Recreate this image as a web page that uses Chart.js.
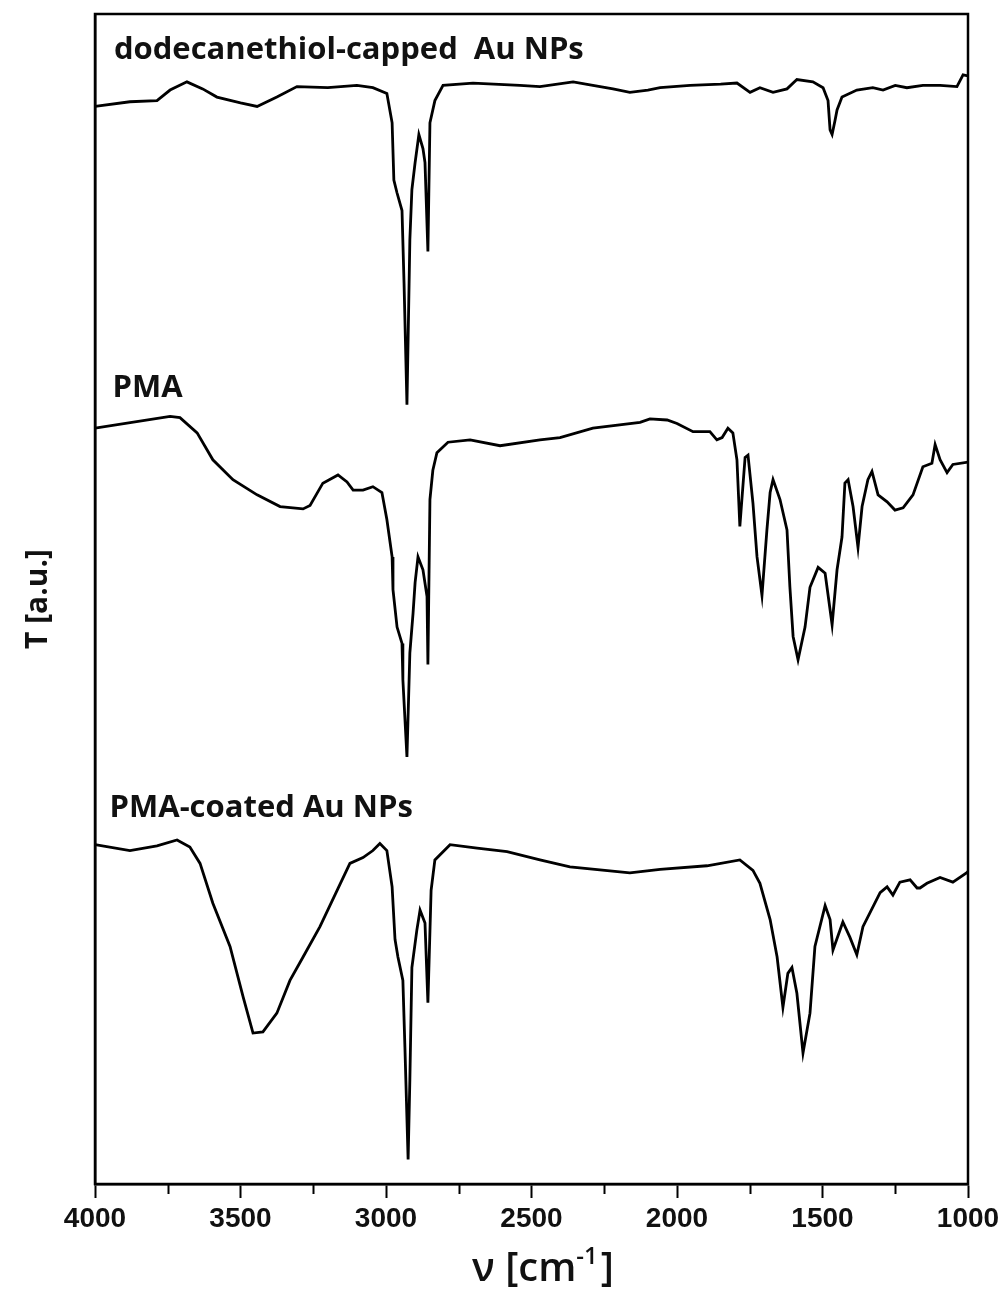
<!DOCTYPE html>
<html>
<head>
<meta charset="utf-8">
<script src="https://cdn.jsdelivr.net/npm/chart.js@4/dist/chart.umd.min.js"></script>
<style>
  html, body { margin: 0; padding: 0; background: #fff; }
  #wrap { width: 1005px; height: 1290px; }
</style>
</head>
<body>
<div id="wrap"><canvas id="ir"></canvas></div>
<script>
// FTIR spectra, offset vertically; wavenumber in cm^-1, transmittance in a.u.
const seriesNames = ['dodecanethiol-capped  Au NPs', 'PMA', 'PMA-coated Au NPs'];

const thiolWavenumber = [4000,3880,3787,3742,3684,3630,3581,3500,3443,3375,3306,3200,3100,3045,2997,2979,2973,2962,2945,2938,2928,2918,2911,2900,2887,2873,2866,2856,2849,2832,2804,2701,2540,2471,2357,2289,2220,2162,2100,2058,1955,1850,1794,1749,1715,1670,1622,1588,1533,1498,1481,1474,1467,1457,1450,1433,1382,1327,1292,1250,1210,1155,1096,1038,1017,1000];
const thiolT = [92.1,92.5,92.6,93.5,94.2,93.6,92.9,92.4,92.1,92.9,93.8,93.7,93.9,93.7,93.2,90.7,85.8,84.7,83.2,77.0,66.6,80.7,85.0,87.3,89.7,88.5,87.3,79.7,90.7,92.6,93.9,94.1,93.9,93.8,94.2,93.9,93.6,93.3,93.5,93.7,93.9,94.0,94.1,93.3,93.7,93.3,93.6,94.4,94.2,93.7,92.6,90.1,89.7,90.9,91.8,92.9,93.5,93.7,93.5,93.9,93.7,93.9,93.9,93.8,94.8,94.7];

const pmaWavenumber = [4000,3742,3708,3649,3595,3526,3443,3364,3285,3261,3217,3165,3134,3113,3079,3045,3014,2997,2979,2976,2962,2945,2942,2928,2918,2907,2900,2890,2873,2859,2856,2849,2839,2825,2787,2711,2608,2471,2402,2289,2127,2093,2034,2000,1945,1887,1863,1845,1825,1808,1794,1784,1766,1756,1739,1725,1708,1691,1680,1670,1646,1622,1612,1601,1584,1560,1543,1515,1491,1467,1450,1433,1423,1412,1395,1378,1364,1344,1330,1309,1278,1251,1223,1189,1155,1124,1113,1096,1072,1052,1000];
const pmaT = [64.6,65.6,65.5,64.2,61.9,60.2,58.9,57.9,57.7,58.0,59.9,60.6,60.0,59.3,59.3,59.6,59.1,56.8,53.6,50.8,47.6,46.2,43.1,36.5,45.4,48.8,51.4,53.6,52.5,50.2,44.4,58.5,61.0,62.5,63.4,63.6,63.1,63.6,63.8,64.6,65.1,65.4,65.3,65.0,64.3,64.3,63.6,63.8,64.6,64.2,61.9,56.2,62.1,62.3,58.2,53.6,50.3,55.9,59.1,60.2,58.5,55.9,51.0,46.8,44.8,47.6,51.0,52.7,52.2,47.8,52.5,55.3,59.9,60.2,57.9,54.4,57.9,60.2,60.9,58.9,58.3,57.6,57.8,58.9,61.3,61.6,63.2,61.9,60.8,61.5,61.7];

const coatedWavenumber = [4000,3880,3787,3718,3674,3639,3595,3536,3491,3457,3423,3375,3330,3285,3227,3168,3124,3079,3045,3021,2997,2979,2969,2959,2942,2935,2924,2918,2911,2894,2883,2866,2856,2845,2832,2780,2687,2584,2471,2368,2162,2058,1897,1784,1739,1715,1680,1656,1636,1619,1605,1588,1567,1543,1526,1491,1474,1464,1430,1406,1382,1361,1302,1278,1258,1234,1199,1175,1165,1141,1096,1052,1004,1000];
const coatedT = [29.0,28.5,28.9,29.4,28.8,27.4,24.0,20.3,16.0,12.9,13.0,14.6,17.4,19.4,22.0,25.1,27.4,27.9,28.5,29.1,28.5,25.4,20.9,19.4,17.4,11.7,2.1,8.9,18.5,21.7,23.4,22.3,15.5,25.1,27.7,29.0,28.7,28.4,27.7,27.1,26.6,26.9,27.2,27.7,26.8,25.7,22.6,19.4,15.1,18.0,18.5,16.3,11.2,14.6,20.3,23.8,22.6,20.0,22.4,21.1,19.6,22.0,24.9,25.4,24.7,25.8,26.0,25.3,25.3,25.7,26.2,25.8,26.6,26.7];

const majorTicks = [4000, 3500, 3000, 2500, 2000, 1500, 1000];
const minorTicks = [3750, 3250, 2750, 2250, 1750, 1250];

const toPoints = (xs, ys) => xs.map((x, i) => ({ x: x, y: ys[i] }));

const spectra = [
  toPoints(thiolWavenumber, thiolT),
  toPoints(pmaWavenumber, pmaT),
  toPoints(coatedWavenumber, coatedT)
];

// Where each spectrum's name sits: wavenumber of its left edge, T of its baseline
const namePlacement = [
  { v: 3935, t: 96.15 },
  { v: 3940, t: 67.3 },
  { v: 3950, t: 31.4 }
];

const framePlugin = {
  id: 'frame',
  afterDraw(chart) {
    const { ctx, chartArea: a, scales } = chart;
    ctx.save();
    // frame around the plot
    ctx.strokeStyle = '#000';
    ctx.lineWidth = 2.5;
    ctx.strokeRect(a.left, a.top, a.right - a.left, a.bottom - a.top);
    // minor ticks below the x axis
    ctx.lineWidth = 2;
    minorTicks.forEach(v => {
      const px = Math.round(scales.x.getPixelForValue(v)) + 0.5;
      ctx.beginPath();
      ctx.moveTo(px, a.bottom);
      ctx.lineTo(px, a.bottom + 10);
      ctx.stroke();
    });
    // spectrum names
    ctx.fillStyle = '#111';
    ctx.font = 'bold 31px "Open Sans", sans-serif';
    ctx.textBaseline = 'alphabetic';
    ctx.textAlign = 'left';
    seriesNames.forEach((name, i) => {
      const p = namePlacement[i];
      ctx.fillText(name, scales.x.getPixelForValue(p.v), scales.y.getPixelForValue(p.t));
    });
    // x-axis title: ν [cm-1] with a raised exponent
    const base = 1281;
    let x = 472;
    const big = '600 40px "Open Sans", sans-serif';
    const small = '600 24px "Open Sans", sans-serif';
    const parts = [
      { s: 'ν [cm', f: big, dy: 0 },
      { s: '-1', f: small, dy: -17 },
      { s: ']', f: big, dy: 0 }
    ];
    parts.forEach(p => {
      ctx.font = p.f;
      ctx.fillText(p.s, x, base + p.dy);
      x += ctx.measureText(p.s).width + (p.s === '-1' ? 3 : 0);
    });
    ctx.restore();
  }
};

new Chart(document.getElementById('ir'), {
  type: 'line',
  data: {
    datasets: spectra.map((pts, i) => ({
      label: seriesNames[i],
      data: pts,
      borderColor: '#000',
      borderWidth: 2.8,
      pointRadius: 0,
      tension: 0,
      fill: false
    }))
  },
  options: {
    responsive: true,
    maintainAspectRatio: false,
    animation: false,
    layout: { padding: { top: 14, right: 37, left: 0, bottom: 0 } },
    plugins: { legend: { display: false }, tooltip: { enabled: false } },
    scales: {
      x: {
        type: 'linear',
        reverse: true,
        min: 1000,
        max: 4000,
        afterBuildTicks: s => { s.ticks = majorTicks.map(v => ({ value: v })); },
        ticks: {
          color: '#111',
          font: { family: '"Liberation Sans", Arial, sans-serif', size: 28, weight: 'bold' },
          padding: 4,
          maxRotation: 0,
          autoSkip: false,
          callback: v => String(v)
        },
        grid: { display: true, drawOnChartArea: false, drawTicks: true, tickLength: 14, tickWidth: 2, tickColor: '#000' },
        border: { display: true, color: '#000', width: 2.5 },
        title: { display: false },
        afterFit: s => { s.height = 106; }
      },
      y: {
        type: 'linear',
        min: 0,
        max: 100,
        ticks: { display: false },
        grid: { display: false },
        border: { display: true, color: '#000', width: 2.5 },
        title: {
          display: true,
          text: 'T [a.u.]',
          color: '#111',
          font: { family: '"Open Sans", sans-serif', size: 30, weight: 'bold' },
          padding: { top: 20, bottom: 0 }
        },
        afterFit: s => { s.width = 95; }
      }
    }
  },
  plugins: [framePlugin]
});
</script>
</body>
</html>
